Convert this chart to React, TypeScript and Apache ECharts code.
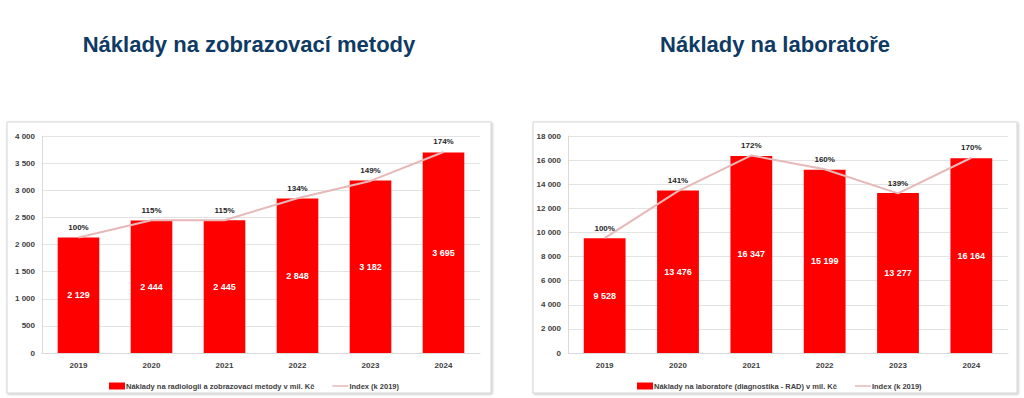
import React, { useEffect, useRef } from "react";
import * as echarts from "echarts";

const years = ["2019", "2020", "2021", "2022", "2023", "2024"];
const imagingCosts = [2129, 2444, 2445, 2848, 3182, 3695];
const imagingIndex = [100, 115, 115, 134, 149, 174];
const labCosts = [9528, 13476, 16347, 15199, 13277, 16164];
const labIndex = [100, 141, 172, 160, 139, 170];
const imagingAxis = { max: 4000, interval: 500 };
const labAxis = { max: 18000, interval: 2000 };
const titles = ["Náklady na zobrazovací metody", "Náklady na laboratoře"];
const barNames = [
  "Náklady na radiologii a zobrazovací metody v mil. Kč",
  "Náklady na laboratoře (diagnostika - RAD) v mil. Kč",
];
const lineName = "Index (k 2019)";

const FONT = "'Liberation Sans', Arial, sans-serif";
const fmt = (v: number) => String(v).replace(/\B(?=(\d{3})+(?!\d))/g, " ");

export default function App() {
  const ref = useRef<HTMLDivElement>(null);
  useEffect(() => {
    const chart = echarts.init(ref.current!, null, { renderer: "svg" });
    const grids = [
      { left: 42, top: 136, width: 438, height: 217 },
      { left: 568, top: 136, width: 440, height: 217 },
    ];
    const axes = [imagingAxis, labAxis];
    const costs = [imagingCosts, labCosts];
    const idx = [imagingIndex, labIndex];
    const legendLeft = [104, 632];
    const xAxis: any[] = [];
    const yAxis: any[] = [];
    const series: any[] = [];
    const legend: any[] = [];
    [0, 1].forEach((i) => {
      xAxis.push({
        type: "category",
        gridIndex: i,
        data: years,
        axisTick: { show: false },
        axisLine: { lineStyle: { color: "#d9d9d9" } },
        axisLabel: { color: "#404040", fontWeight: "bold", fontSize: 8, fontFamily: FONT, margin: 8 },
      });
      yAxis.push({
        type: "value",
        gridIndex: i,
        min: 0,
        max: axes[i].max,
        interval: axes[i].interval,
        axisLine: { show: true, lineStyle: { color: "#d9d9d9" } },
        axisTick: { show: false },
        splitLine: { lineStyle: { color: "#e3e3e3" } },
        axisLabel: { color: "#404040", fontWeight: "bold", fontSize: 8, fontFamily: FONT, margin: 7, formatter: fmt },
      });
      yAxis.push({
        type: "value",
        gridIndex: i,
        min: 0,
        max: (axes[i].max / costs[i][0]) * 100,
        show: false,
        splitLine: { show: false },
      });
      series.push({
        name: barNames[i],
        type: "bar",
        xAxisIndex: i,
        yAxisIndex: i * 2,
        data: costs[i],
        barWidth: "57%",
        itemStyle: { color: "#ff0000" },
        label: {
          show: true,
          position: "inside",
          color: "#ffffff",
          fontWeight: "bold",
          fontSize: 9,
          fontFamily: FONT,
          formatter: (p: any) => fmt(p.value),
        },
      });
      series.push({
        name: lineName,
        type: "line",
        xAxisIndex: i,
        yAxisIndex: i * 2 + 1,
        data: idx[i],
        symbol: "circle",
        symbolSize: 0.1,
        z: 5,
        itemStyle: { color: "#e6b8b7" },
        lineStyle: { color: "#e6b8b7", width: 2 },
        label: {
          show: true,
          position: "top",
          distance: 6,
          color: "#262626",
          fontWeight: "bold",
          fontSize: 8,
          fontFamily: FONT,
          formatter: (p: any) => p.value + "%",
        },
      });
      legend.push({
        left: legendLeft[i],
        top: 377,
        itemWidth: 16,
        itemHeight: 7,
        itemGap: 18,
        selectedMode: false,
        textStyle: { color: "#404040", fontWeight: "bold", fontSize: 7.5, fontFamily: FONT, padding: [0, 0, 0, -4] },
        data: [
          { name: barNames[i], icon: "rect" },
          { name: lineName, icon: "path://M0,0h16v1.5h-16z" },
        ],
      });
    });
    chart.setOption({
      animation: false,
      backgroundColor: "#ffffff",
      grid: grids,
      xAxis,
      yAxis,
      series,
      legend,
      graphic: [
        {
          type: "rect",
          shape: { x: 7, y: 122, width: 484, height: 271 },
          style: { fill: "#ffffff", stroke: "#d6d6d6", lineWidth: 1, shadowBlur: 2, shadowOffsetX: 1, shadowOffsetY: 1, shadowColor: "rgba(0,0,0,0.25)" },
          z: -10,
        },
        {
          type: "rect",
          shape: { x: 533, y: 122, width: 484, height: 271 },
          style: { fill: "#ffffff", stroke: "#d6d6d6", lineWidth: 1, shadowBlur: 2, shadowOffsetX: 1, shadowOffsetY: 1, shadowColor: "rgba(0,0,0,0.25)" },
          z: -10,
        },
        {
          type: "text",
          x: 249,
          y: 44,
          style: { text: titles[0], fill: "#0e3a64", fontSize: 22, fontWeight: "bold", fontFamily: FONT, align: "center", verticalAlign: "middle" },
        },
        {
          type: "text",
          x: 775,
          y: 44,
          style: { text: titles[1], fill: "#0e3a64", fontSize: 22, fontWeight: "bold", fontFamily: FONT, align: "center", verticalAlign: "middle" },
        },
      ],
    });
    return () => chart.dispose();
  }, []);
  return <div ref={ref} style={{ position: "fixed", left: 0, top: 0, width: 1024, height: 398 }} />;
}
